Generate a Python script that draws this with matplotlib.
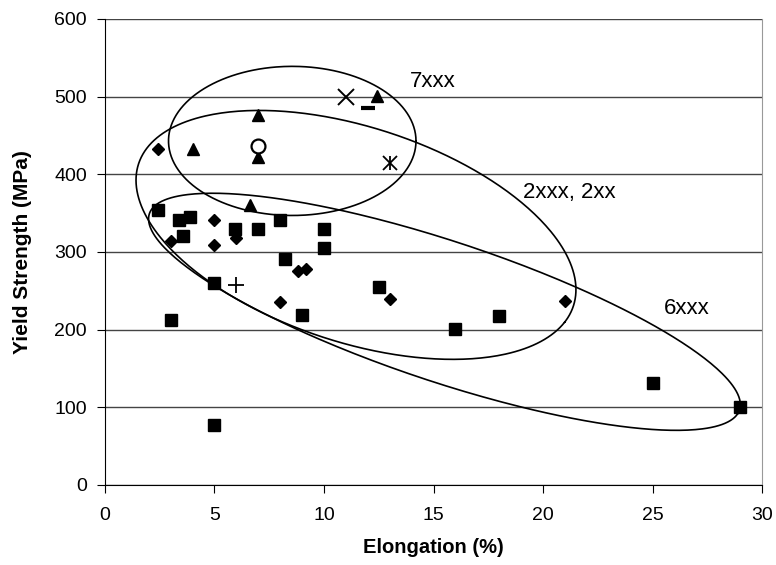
import numpy as np
import matplotlib.pyplot as plt

plt.rcParams["font.family"] = ["Liberation Sans", "DejaVu Sans"]

# alloy data: elongation (%) and yield strength (MPa)
sq_x = [2.4, 3.4, 3.9, 3.55, 5.95, 7, 8, 10, 10, 8.2, 5, 12.5, 9, 3, 5, 16, 18, 25, 29]
sq_y = [354, 341, 345, 321, 330, 330, 341, 330, 305, 291, 260, 255, 219, 212, 77, 201, 217, 131, 100]

dia_x = [2.4, 5, 3, 5, 6, 8.8, 9.2, 8, 13, 21]
dia_y = [433, 341, 314, 309, 318, 275, 278, 235, 239, 237]

tri_x = [4, 7, 7, 6.6, 12.4]
tri_y = [432, 476, 422, 361, 501]

circ_x, circ_y = [7], [436]
cross_x, cross_y = [11], [500]
dash_x, dash_y = [12], [485]
star_x, star_y = [13], [415]
plus_x, plus_y = [6], [258]

# group outlines: centre and two semi-axis vectors in data units
groups = {
    "7xxx": dict(c=(8.55, 443), u=(5.65, 0), v=(0, 96)),
    "2xxx, 2xx": dict(c=(11.46, 322), u=(9.53, -112.3), v=(-3.17, -114.3)),
    "6xxx": dict(c=(15.5, 223), u=(13.39, -131.2), v=(-1.8, -78)),
}
group_labels = {"7xxx": (13.9, 520), "2xxx, 2xx": (19.1, 377), "6xxx": (25.5, 227)}

fig = plt.figure(figsize=(7.76, 5.65), dpi=100)
ax = fig.add_axes([0.1353, 0.1416, 0.8467, 0.8248])

t = np.linspace(0, 2 * np.pi, 400)
for name, g in groups.items():
    cx, cy = g["c"]
    ex = cx + g["u"][0] * np.cos(t) + g["v"][0] * np.sin(t)
    ey = cy + g["u"][1] * np.cos(t) + g["v"][1] * np.sin(t)
    ax.plot(ex, ey, color="black", lw=1.2, zorder=2)
    lx, ly = group_labels[name]
    ax.text(lx, ly, name, fontsize=16, va="center", ha="left")

ax.plot(sq_x, sq_y, "s", color="black", ms=8, zorder=3)
ax.plot(dia_x, dia_y, "D", color="black", ms=6, zorder=3)
ax.plot(tri_x, tri_y, "^", color="black", ms=8, zorder=3)
ax.plot(circ_x, circ_y, "o", mfc="white", mec="black", mew=1.6, ms=10, zorder=3)
ax.plot(cross_x, cross_y, "x", color="black", ms=11, mew=1.4, zorder=3)
ax.plot(dash_x, dash_y, "_", color="black", ms=10, mew=3, zorder=3)
ax.plot(star_x, star_y, "x", color="black", ms=10, mew=1.3, zorder=3)
ax.plot(star_x, star_y, "|", color="black", ms=10, mew=1.3, zorder=3)
ax.plot(plus_x, plus_y, "+", color="black", ms=12, mew=1.3, zorder=3)

ax.set_xlim(0, 30)
ax.set_ylim(0, 600)
ax.set_xticks(range(0, 31, 5))
ax.set_yticks(range(0, 601, 100))
ax.yaxis.grid(True, color="#444444", lw=1)
ax.set_axisbelow(True)
ax.spines["top"].set_visible(False)
ax.spines["right"].set_color("#999999")
ax.tick_params(direction="out", length=6, labelsize=14, colors="black")
ax.tick_params(axis="x", pad=10)
ax.tick_params(axis="y", pad=7)
ax.set_xlabel("Elongation (%)", fontsize=14.5, fontweight="bold", labelpad=10)
ax.set_ylabel("Yield Strength (MPa)", fontsize=15, fontweight="bold", labelpad=16)

fig.savefig("out.png", dpi=100)
